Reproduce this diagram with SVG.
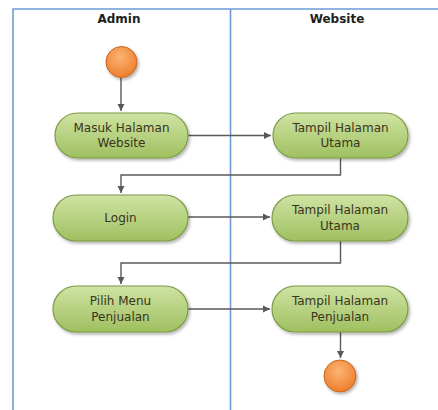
<svg xmlns="http://www.w3.org/2000/svg" width="438" height="410" viewBox="0 0 438 410">
<style>
.lane{stroke:#6e9ad6;stroke-width:1.6;fill:none}
.hdr{font-family:"DejaVu Sans",sans-serif;font-weight:bold;font-size:12px;fill:#1e1e1e;text-anchor:middle}
.node rect{fill:url(#gGreen);stroke:#7d9a45;stroke-width:1.2;filter:url(#sh)}
.node text{font-family:"DejaVu Sans",sans-serif;font-size:12px;fill:#3a3420;text-anchor:middle}
.dot{fill:url(#gOrange);stroke:#c8651e;stroke-width:1;filter:url(#sh)}
.conn path{fill:none;stroke:#595959;stroke-width:1.4;marker-end:url(#arr)}
</style>
<defs>
<linearGradient id="gGreen" x1="0" y1="0" x2="0" y2="1">
<stop offset="0" stop-color="#cfe3a3"/>
<stop offset="1" stop-color="#9fc060"/>
</linearGradient>
<radialGradient id="gOrange" cx="0.45" cy="0.35" r="0.7">
<stop offset="0" stop-color="#fbb473"/>
<stop offset="1" stop-color="#ec7a28"/>
</radialGradient>
<filter id="sh" x="-20%" y="-20%" width="140%" height="150%">
<feDropShadow dx="1.5" dy="2" stdDeviation="1.5" flood-color="#000" flood-opacity="0.3"/>
</filter>
<marker id="arr" markerWidth="8" markerHeight="8" refX="7" refY="4" orient="auto" markerUnits="userSpaceOnUse">
<path d="M0,0.5 L7,4 L0,7.5 Z" fill="#595959"/>
</marker>
</defs>
<g id="lanes">
<path class="lane" d="M13,410 V9 H438"/>
<path class="lane" d="M230.5,9 V410"/>
<text class="hdr" x="119" y="23">Admin</text>
<text class="hdr" x="337" y="23">Website</text>
</g>
<g class="conn" id="connectors">
<path d="M121,78 V111"/>
<path d="M188,135.5 H271"/>
<path d="M340.5,158 V175 H121 V193"/>
<path d="M188,217 H270"/>
<path d="M340.5,241 V263 H121 V284"/>
<path d="M188,309 H270"/>
<path d="M340.5,332 V358"/>
</g>
<g id="start"><circle class="dot" cx="121.5" cy="62" r="15.5"/></g>
<g id="n1" class="node"><rect x="55" y="113" width="133" height="45" rx="22.5"/><text x="121.5" y="131.5">Masuk Halaman</text><text x="121.5" y="147">Website</text></g>
<g id="n2" class="node"><rect x="273" y="113" width="135" height="45" rx="22.5"/><text x="340.5" y="131.5">Tampil Halaman</text><text x="340.5" y="147">Utama</text></g>
<g id="n3" class="node"><rect x="53" y="195" width="135" height="46" rx="23"/><text x="120.5" y="222">Login</text></g>
<g id="n4" class="node"><rect x="272" y="195" width="136" height="46" rx="23"/><text x="340" y="213.5">Tampil Halaman</text><text x="340" y="229.5">Utama</text></g>
<g id="n5" class="node"><rect x="53" y="286" width="135" height="46" rx="23"/><text x="120.5" y="304.5">Pilih Menu</text><text x="120.5" y="320.5">Penjualan</text></g>
<g id="n6" class="node"><rect x="272" y="286" width="136" height="46" rx="23"/><text x="340" y="304.5">Tampil Halaman</text><text x="340" y="320.5">Penjualan</text></g>
<g id="end"><circle class="dot" cx="340" cy="376" r="16"/></g>
</svg>
